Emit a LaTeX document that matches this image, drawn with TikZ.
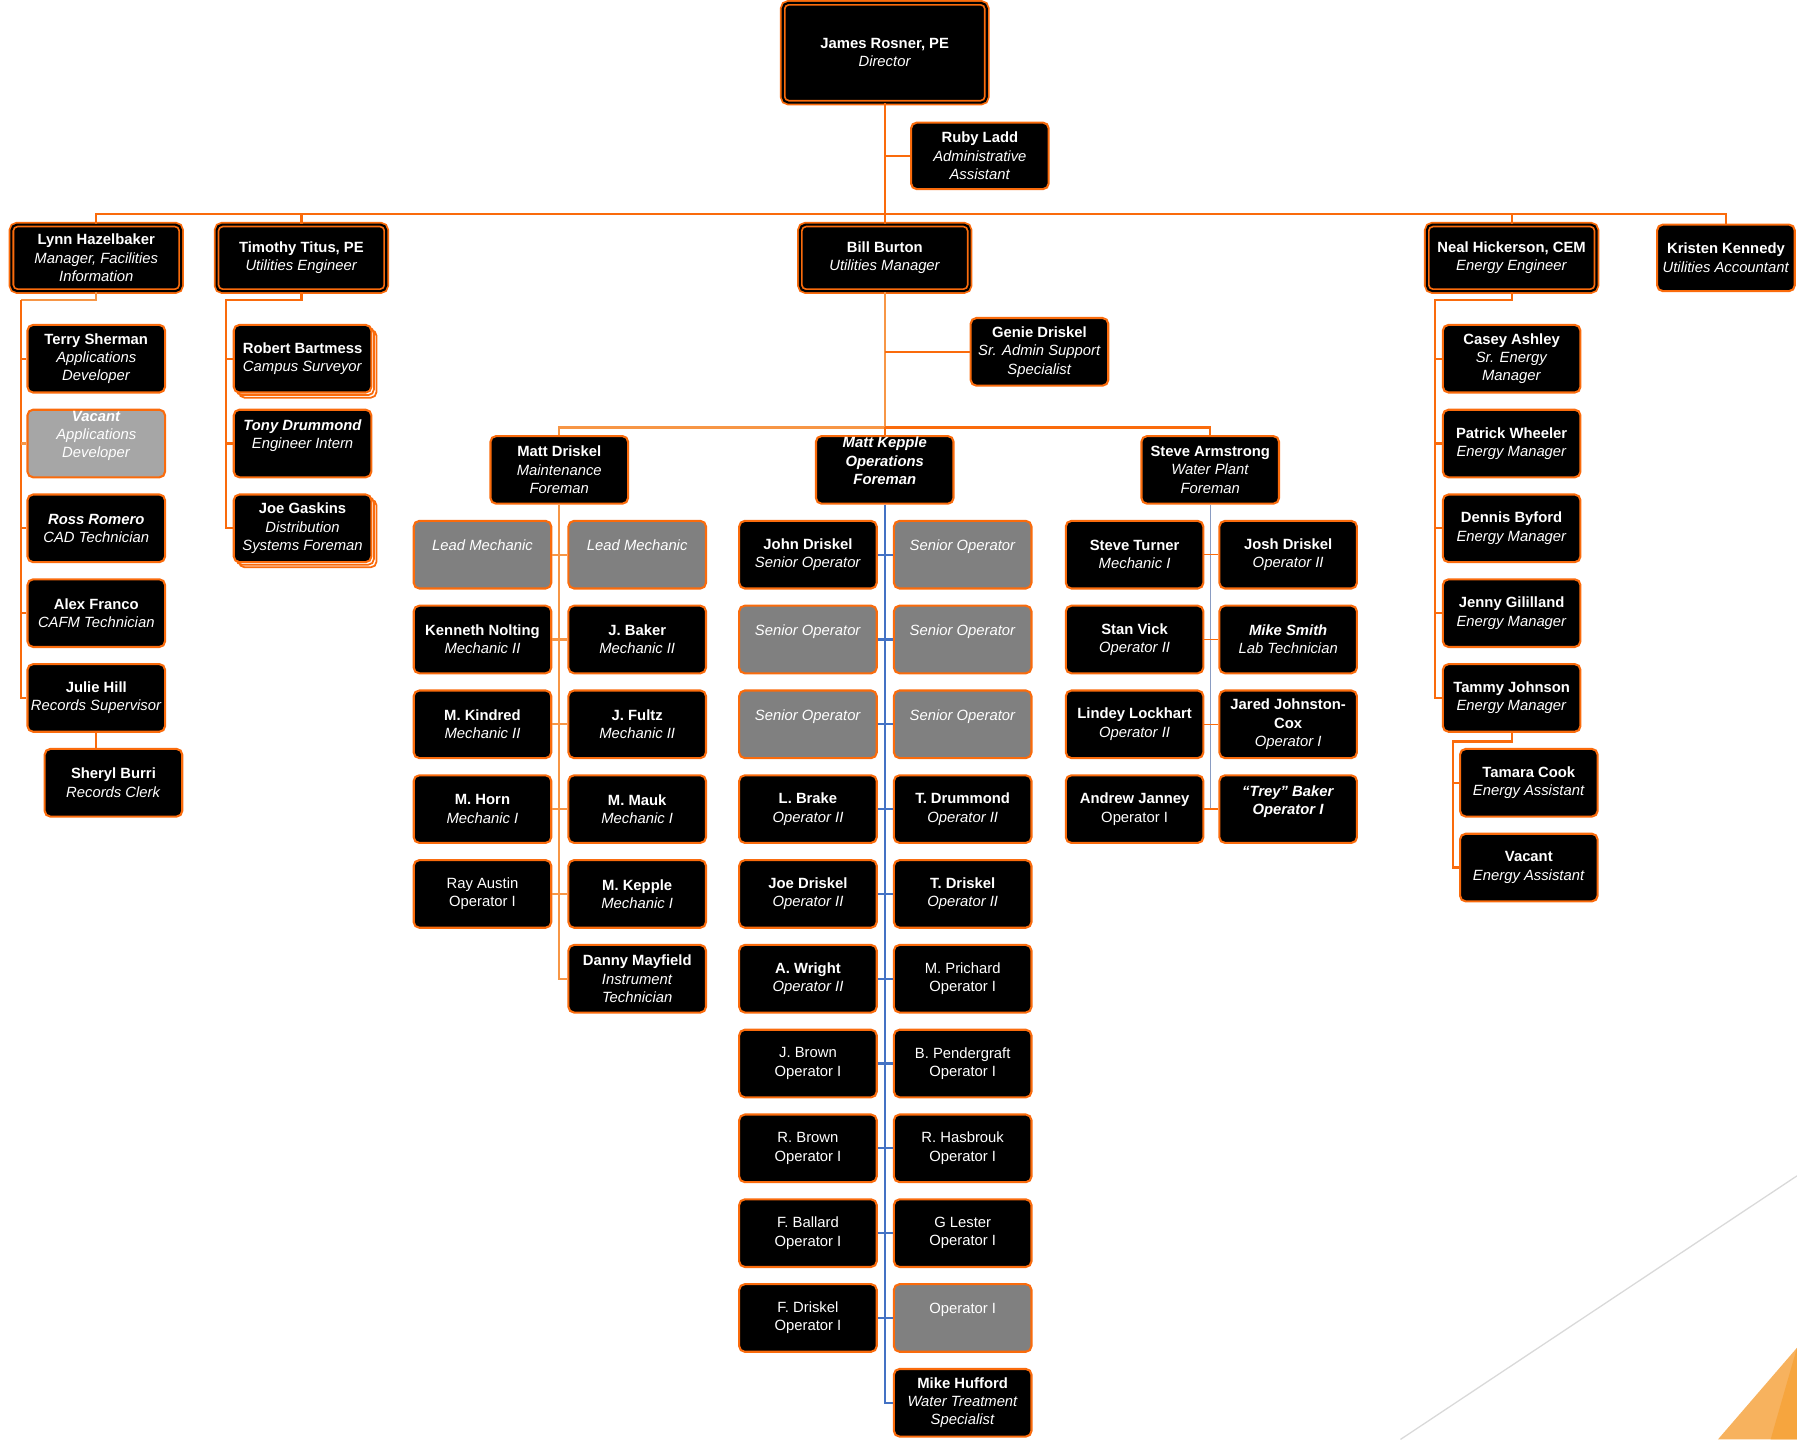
\documentclass[tikz,border=0pt]{standalone}
\usepackage{fontspec}
\setmainfont{Liberation Sans}
\usetikzlibrary{shadows}

\definecolor{boxorange}{HTML}{FA6B0C}
\definecolor{softorange}{HTML}{F79646}
\definecolor{vacgray}{HTML}{808080}
\definecolor{vaclight}{HTML}{A6A6A6}
\definecolor{opsblue}{HTML}{4472C4}
\definecolor{waterblue}{HTML}{8A9CC2}
\definecolor{cornerlight}{HTML}{F7B25E}
\definecolor{cornerdark}{HTML}{F6A53E}

\newcommand{\pname}[1]{\textbf{#1}}
\newcommand{\ptitle}[1]{\textit{#1}}
\newcommand{\pboth}[1]{\textit{\textbf{#1}}}

\tikzset{
  person/.style={draw=boxorange, fill=black, text=white, line width=1.3pt,
    rounded corners=3.5pt, minimum width=3cm, minimum height=1.475cm,
    inner sep=0pt, align=center, font=\fontsize{9.2}{11.4}\selectfont},
  lead/.style={person, double=black, double distance=1.3pt, line width=1.1pt,
    minimum width=3.7cm, minimum height=1.45cm},
  vacantbox/.style={person, fill=vacgray},
  vacantlight/.style={person, fill=vaclight},
  stacked/.style={person, double copy shadow={shadow xshift=1.6pt,
    shadow yshift=-1.6pt, fill=white, draw=boxorange, line width=1.1pt}},
  conn/.style={draw=boxorange, line width=1.4pt},
  softconn/.style={draw=softorange, line width=1.4pt},
  opsconn/.style={draw=opsblue, line width=1.4pt},
  waterconn/.style={draw=waterblue, line width=0.9pt},
}

\begin{document}
\begin{tikzpicture}[x=0.025cm, y=-0.025cm]
\useasboundingbox (0,0) rectangle (1568,1256);

% director and assistant
\node[lead, minimum width=4.45cm, minimum height=2.175cm] (rosner) at (772,46) {\pname{James Rosner, PE}\\\ptitle{Director}};
\node[person, minimum height=1.45cm] (ladd) at (855,136) {\pname{Ruby Ladd}\\\ptitle{Administrative}\\\ptitle{Assistant}};

% second row
\node[lead] (hazelbaker) at (84,225) {\pname{Lynn Hazelbaker}\\\ptitle{Manager, Facilities}\\\ptitle{Information}};
\node[lead] (titus) at (263,225) {\pname{Timothy Titus, PE}\\\ptitle{Utilities Engineer}};
\node[lead] (burton) at (772,225) {\pname{Bill Burton}\\\ptitle{Utilities Manager}};
\node[lead] (hickerson) at (1319,225) {\pname{Neal Hickerson, CEM}\\\ptitle{Energy Engineer}};
\node[person, minimum height=1.45cm] (kennedy) at (1506,225) {\pname{Kristen Kennedy}\\\ptitle{Utilities Accountant}};

% facilities information
\node[person] (sherman) at (84,313) {\pname{Terry Sherman}\\\ptitle{Applications}\\\ptitle{Developer}};
\node[vacantlight] (appdev) at (84,387) {\pboth{Vacant}\\\ptitle{Applications}\\\ptitle{Developer}\\\mbox{}};
\node[person] (romero) at (84,461) {\pboth{Ross Romero}\\\ptitle{CAD Technician}};
\node[person] (franco) at (84,535) {\pname{Alex Franco}\\\ptitle{CAFM Technician}};
\node[person] (hill) at (84,609) {\pname{Julie Hill}\\\ptitle{Records Supervisor}};
\node[person] (burri) at (99,683) {\pname{Sheryl Burri}\\\ptitle{Records Clerk}};

% utilities engineer
\node[stacked] (bartmess) at (264,313) {\pname{Robert Bartmess}\\\ptitle{Campus Surveyor}};
\node[person] (tdrummond) at (264,387) {\pboth{Tony Drummond}\\\ptitle{Engineer Intern}\\\mbox{}};
\node[stacked] (gaskins) at (264,461) {\pname{Joe Gaskins}\\\ptitle{Distribution}\\\ptitle{Systems Foreman}};

% utilities manager
\node[person] (gdriskel) at (907,307) {\pname{Genie Driskel}\\\ptitle{Sr. Admin Support}\\\ptitle{Specialist}};
\node[person] (mdriskel) at (488,410) {\pname{Matt Driskel}\\\ptitle{Maintenance}\\\ptitle{Foreman}};
\node[person] (mkepple) at (772,410) {\pboth{Matt Kepple}\\\pboth{Operations}\\\pboth{Foreman}\\\mbox{}};
\node[person] (armstrong) at (1056,410) {\pname{Steve Armstrong}\\\ptitle{Water Plant}\\\ptitle{Foreman}};

% maintenance
\node[vacantbox] (lead1) at (421,484) {\ptitle{Lead Mechanic}\\\mbox{}};
\node[vacantbox] (lead2) at (556,484) {\ptitle{Lead Mechanic}\\\mbox{}};
\node[person] (nolting) at (421,558) {\pname{Kenneth Nolting}\\\ptitle{Mechanic II}};
\node[person] (baker) at (556,558) {\pname{J. Baker}\\\ptitle{Mechanic II}};
\node[person] (kindred) at (421,632) {\pname{M. Kindred}\\\ptitle{Mechanic II}};
\node[person] (fultz) at (556,632) {\pname{J. Fultz}\\\ptitle{Mechanic II}};
\node[person] (horn) at (421,706) {\pname{M. Horn}\\\ptitle{Mechanic I}};
\node[person] (mauk) at (556,706) {\pname{M. Mauk}\\\ptitle{Mechanic I}};
\node[person] (austin) at (421,780) {Ray Austin\\Operator I};
\node[person] (mkepplemech) at (556,780) {\pname{M. Kepple}\\\ptitle{Mechanic I}};
\node[person] (mayfield) at (556,854) {\pname{Danny Mayfield}\\\ptitle{Instrument}\\\ptitle{Technician}};

% operations
\node[person] (jdriskel) at (705,484) {\pname{John Driskel}\\\ptitle{Senior Operator}};
\node[vacantbox] (senior1) at (840,484) {\ptitle{Senior Operator}\\\mbox{}};
\node[vacantbox] (senior2) at (705,558) {\ptitle{Senior Operator}\\\mbox{}};
\node[vacantbox] (senior3) at (840,558) {\ptitle{Senior Operator}\\\mbox{}};
\node[vacantbox] (senior4) at (705,632) {\ptitle{Senior Operator}\\\mbox{}};
\node[vacantbox] (senior5) at (840,632) {\ptitle{Senior Operator}\\\mbox{}};
\node[person] (brake) at (705,706) {\pname{L. Brake}\\\ptitle{Operator II}};
\node[person] (drummond) at (840,706) {\pname{T. Drummond}\\\ptitle{Operator II}};
\node[person] (joedriskel) at (705,780) {\pname{Joe Driskel}\\\ptitle{Operator II}};
\node[person] (tdriskel) at (840,780) {\pname{T. Driskel}\\\ptitle{Operator II}};
\node[person] (wright) at (705,854) {\pname{A. Wright}\\\ptitle{Operator II}};
\node[person] (prichard) at (840,854) {M. Prichard\\Operator I};
\node[person] (jbrown) at (705,928) {J. Brown\\Operator I};
\node[person] (pendergraft) at (840,928) {B. Pendergraft\\Operator I};
\node[person] (rbrown) at (705,1002) {R. Brown\\Operator I};
\node[person] (hasbrouk) at (840,1002) {R. Hasbrouk\\Operator I};
\node[person] (ballard) at (705,1076) {F. Ballard\\Operator I};
\node[person] (lester) at (840,1076) {G Lester\\Operator I};
\node[person] (fdriskel) at (705,1150) {F. Driskel\\Operator I};
\node[vacantbox] (operator) at (840,1150) {Operator I\\\mbox{}};
\node[person] (hufford) at (840,1224) {\pname{Mike Hufford}\\\ptitle{Water Treatment}\\\ptitle{Specialist}};

% water plant
\node[person] (turner) at (990,484) {\pname{Steve Turner}\\\ptitle{Mechanic I}};
\node[person] (joshdriskel) at (1124,484) {\pname{Josh Driskel}\\\ptitle{Operator II}};
\node[person] (vick) at (990,558) {\pname{Stan Vick}\\\ptitle{Operator II}};
\node[person] (smith) at (1124,558) {\pboth{Mike Smith}\\\ptitle{Lab Technician}};
\node[person] (lockhart) at (990,632) {\pname{Lindey Lockhart}\\\ptitle{Operator II}};
\node[person] (johnston) at (1124,632) {\pname{Jared Johnston-}\\\pname{Cox}\\\ptitle{Operator I}};
\node[person] (janney) at (990,706) {\pname{Andrew Janney}\\Operator I};
\node[person] (tbaker) at (1124,706) {\pboth{“Trey” Baker}\\\pboth{Operator I}\\\mbox{}};

% energy
\node[person] (ashley) at (1319,313) {\pname{Casey Ashley}\\\ptitle{Sr. Energy}\\\ptitle{Manager}};
\node[person] (wheeler) at (1319,387) {\pname{Patrick Wheeler}\\\ptitle{Energy Manager}};
\node[person] (byford) at (1319,461) {\pname{Dennis Byford}\\\ptitle{Energy Manager}};
\node[person] (gililland) at (1319,535) {\pname{Jenny Gililland}\\\ptitle{Energy Manager}};
\node[person] (tjohnson) at (1319,609) {\pname{Tammy Johnson}\\\ptitle{Energy Manager}};
\node[person] (tcook) at (1334,683) {\pname{Tamara Cook}\\\ptitle{Energy Assistant}};
\node[person] (evacant) at (1334,757) {\pname{Vacant}\\\ptitle{Energy Assistant}};

% top connectors
\coordinate (topbus) at (772,187);
\draw[conn] (rosner.south) -- (burton.north);
\draw[conn] (ladd.west) -- (ladd.west -| rosner.south);
\draw[conn] (hazelbaker.north) |- (topbus) -| (kennedy.north);
\draw[conn] (titus.north) -- (titus.north |- topbus);
\draw[conn] (hickerson.north) -- (hickerson.north |- topbus);

% facilities information connectors
\coordinate (lynnbus) at (18,262);
\draw[softconn] (hazelbaker.south) |- (lynnbus);
\draw[conn] (lynnbus) |- (hill.west);
\foreach \n in {sherman,romero,franco}
  \draw[conn] (\n.west) -- (\n.west -| lynnbus);
\draw[softconn] (appdev.west) -- (appdev.west -| lynnbus);
\draw[conn] (hill.south) -- (hill.south |- burri.north);

% utilities engineer connectors
\coordinate (titusbus) at (197,262);
\draw[conn] (titus.south) |- (titusbus) |- (gaskins.west);
\foreach \n in {bartmess,tdrummond}
  \draw[conn] (\n.west) -- (\n.west -| titusbus);

% utilities manager connectors
\coordinate (opsbus) at (772,373);
\draw[softconn] (burton.south) -- (opsbus);
\draw[conn] (gdriskel.west) -- (gdriskel.west -| burton.south);
\draw[softconn] (mdriskel.north) |- (opsbus);
\draw[conn] (opsbus) -| (armstrong.north);
\draw[conn] (mkepple.north) -- (opsbus);

% maintenance connectors
\draw[softconn] (mdriskel.south) |- (mayfield.west);
\foreach \l/\r in {lead1/lead2,nolting/baker,kindred/fultz,horn/mauk,austin/mkepplemech}
  \draw[softconn] (\l.east) -- (\r.west);

% operations connectors
\draw[opsconn] (mkepple.south) |- (hufford.west);
\foreach \l/\r in {jdriskel/senior1,senior2/senior3,senior4/senior5,brake/drummond,joedriskel/tdriskel,
  wright/prichard,jbrown/pendergraft,rbrown/hasbrouk,ballard/lester,fdriskel/operator}
  \draw[opsconn] (\l.east) -- (\r.west);

% water plant connectors
\draw[waterconn] (armstrong.south) -- (armstrong.south |- janney.east);
\foreach \l/\r in {turner/joshdriskel,vick/smith,lockhart/johnston,janney/tbaker}
  \draw[conn, line width=0.9pt] (\l.east) -- (\r.west);

% energy connectors
\coordinate (energybus) at (1252,262);
\draw[conn] (hickerson.south) |- (energybus) |- (tjohnson.west);
\foreach \n in {ashley,wheeler,byford,gililland}
  \draw[conn] (\n.west) -- (\n.west -| energybus);
\coordinate (tammybus) at (1268,647);
\draw[conn] (tjohnson.south) |- (tammybus) |- (evacant.west);
\draw[conn] (tcook.west) -- (tcook.west -| tammybus);

% corner decoration
\draw[black!15, line width=0.8pt] (1222,1256) -- (1568,1026);
\fill[cornerlight] (1568,1176) -- (1499,1256) -- (1568,1256) -- cycle;
\fill[cornerdark] (1568,1176) -- (1545,1256) -- (1568,1256) -- cycle;
\end{tikzpicture}
\end{document}
